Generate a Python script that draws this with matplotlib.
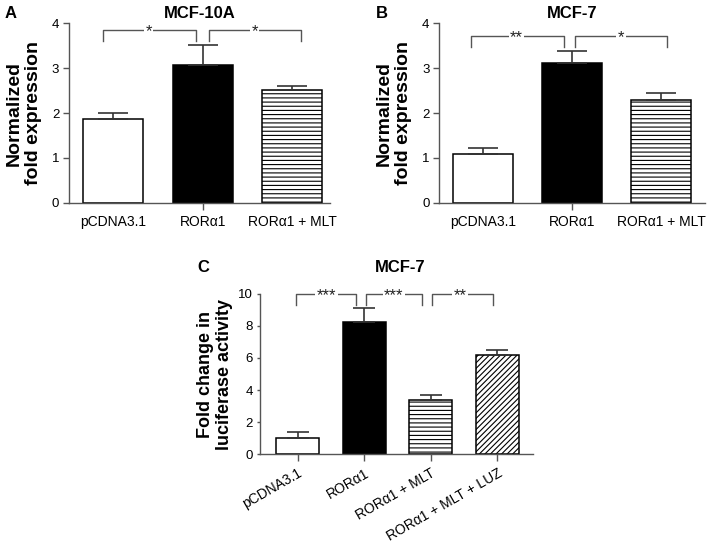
import numpy as np
import matplotlib
matplotlib.use('Agg')
import matplotlib.pyplot as plt

plt.rcParams['font.family'] = ['Liberation Sans', 'DejaVu Sans']
plt.rcParams['hatch.color'] = '#222222'
plt.rcParams['hatch.linewidth'] = 0.8

labels_ab = ['pCDNA3.1', 'RORα1', 'RORα1 + MLT']
labels_c = ['pCDNA3.1', 'RORα1', 'RORα1 + MLT', 'RORα1 + MLT + LUZ']

mcf10a_mean = [1.87, 3.07, 2.52]
mcf10a_err = [0.14, 0.45, 0.08]
mcf7_mean = [1.08, 3.12, 2.30]
mcf7_err = [0.14, 0.27, 0.14]
luc_mean = [0.99, 8.28, 3.35, 6.20]
luc_err = [0.37, 0.83, 0.33, 0.33]

# significance: (x1, x2, star x, text)
sig_a = [(-0.11, 0.925, 0.40, '*'), (1.07, 2.10, 1.58, '*')]
sig_b = [(-0.13, 0.91, 0.38, '**'), (1.03, 2.07, 1.55, '*')]
sig_c = [(-0.02, 0.87, 0.43, '***'), (1.02, 1.86, 1.44, '***'), (2.01, 2.93, 2.44, '**')]

fills = ['white', 'black', 'white', 'white']
hatches = [None, None, '----', '//////']

fig = plt.figure(figsize=(7.14, 5.5), dpi=100)


def panel(ax, means, errs, width, capsize, sig, ytop, ybot):
    x = np.arange(len(means))
    for i in x:
        ax.bar(i, means[i], width=width, color=fills[i], edgecolor='black',
               linewidth=1.1, hatch=hatches[i], zorder=2)
    ax.errorbar(x, means, yerr=[np.zeros(len(errs)), errs], fmt='none',
                ecolor='#333333', elinewidth=1.2, capsize=capsize,
                capthick=1.2, zorder=3)
    for s in ['top', 'right']:
        ax.spines[s].set_visible(False)
    for s in ['left', 'bottom']:
        ax.spines[s].set_color('#555555')
        ax.spines[s].set_linewidth(1.0)
    ax.tick_params(axis='y', direction='out', length=4, width=1,
                   color='#555555', labelsize=9.5, pad=3)
    ax.set_xticks(x)
    ax.tick_params(axis='x', direction='out', length=5, width=1,
                   color='#555555', labelsize=10)
    for x1, x2, xs, txt in sig:
        ax.plot([x1, x1, x2, x2], [ybot, ytop, ytop, ybot], color='#555555',
                lw=1.0, clip_on=False, zorder=4)
        ax.text(xs, ytop - 0.01 * ax.get_ylim()[1], txt, ha='center', va='center',
                fontsize=12, color='#222222',
                bbox=dict(facecolor='white', edgecolor='none', pad=1.0),
                zorder=5, clip_on=False)
    return x


# panel A
axa = fig.add_axes([0.0966, 0.631, 0.3655, 0.327])
axa.set_ylim(0, 4)
panel(axa, mcf10a_mean, mcf10a_err, 0.67, 10.5, sig_a, 3.84, 3.60)
axa.set_xlim(-0.49, 2.42)
axa.set_yticks([0, 1, 2, 3, 4])
axa.set_xticklabels(labels_ab)
for i in [0, 2]:
    axa.xaxis.get_major_ticks()[i].tick1line.set_visible(False)
axa.set_ylabel('Normalized\nfold expression', fontsize=14, fontweight='bold',
               labelpad=7, linespacing=1.15)
axa.set_title('MCF-10A', fontsize=12, fontweight='bold', pad=4)
fig.text(0.007, 0.975, 'A', fontsize=12, fontweight='bold', va='center')

# panel B
axb = fig.add_axes([0.615, 0.631, 0.372, 0.327])
axb.set_ylim(0, 4)
panel(axb, mcf7_mean, mcf7_err, 0.67, 10.5, sig_b, 3.71, 3.47)
axb.set_xlim(-0.49, 2.49)
axb.set_yticks([0, 1, 2, 3, 4])
axb.set_xticklabels(labels_ab)
for i in [0, 2]:
    axb.xaxis.get_major_ticks()[i].tick1line.set_visible(False)
axb.set_ylabel('Normalized\nfold expression', fontsize=14, fontweight='bold',
               labelpad=7, linespacing=1.15)
axb.set_title('MCF-7', fontsize=12, fontweight='bold', pad=4)
fig.text(0.527, 0.975, 'B', fontsize=12, fontweight='bold', va='center')

# panel C
axc = fig.add_axes([0.364, 0.1745, 0.382, 0.291])
axc.set_ylim(0, 10)
panel(axc, luc_mean, luc_err, 0.65, 8, sig_c, 10.0, 9.3)
axc.set_xlim(-0.57, 3.53)
axc.set_yticks([0, 2, 4, 6, 8, 10])
axc.tick_params(axis='y', length=2)
axc.set_xticklabels(labels_c, rotation=30, ha='right', rotation_mode='anchor')
axc.set_ylabel('Fold change in\nluciferase activity', fontsize=13,
               fontweight='bold', labelpad=4, linespacing=1.1)
fig.text(0.56, 0.513, 'MCF-7', fontsize=12, fontweight='bold',
         ha='center', va='center')
fig.text(0.276, 0.513, 'C', fontsize=12, fontweight='bold', va='center')

fig.savefig('out.png', dpi=100)
